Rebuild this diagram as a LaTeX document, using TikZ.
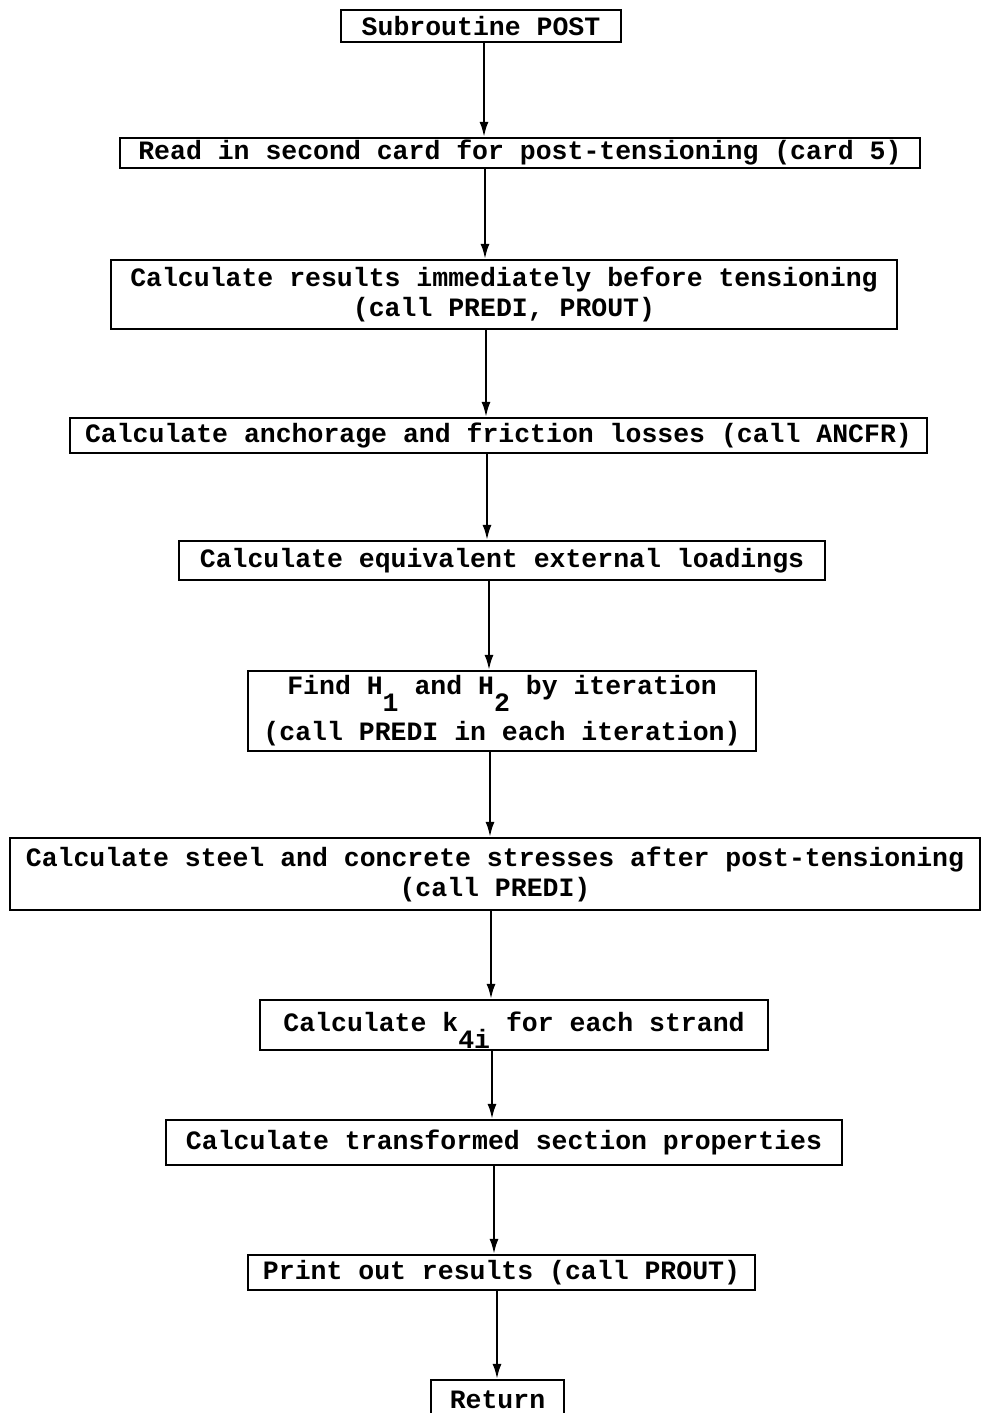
\documentclass[tikz,border=0pt]{standalone}
\usepackage{fontspec}
\setmonofont{Liberation Mono}
\usetikzlibrary{arrows.meta}
\newcommand{\sub}[1]{\smash{\raisebox{-17pt}{#1}}}
\begin{document}
\begin{tikzpicture}[x=1pt,y=-1pt,
  box/.style={draw,line width=2.2pt,inner sep=0pt,align=center,
    font=\ttfamily\bfseries\fontsize{26.5}{30}\selectfont},
  flow/.style={line width=2.2pt,-{Latex[length=15pt,width=9pt]}}]
\useasboundingbox (0,0) rectangle (983,1413);

% process boxes, top to bottom
\node[box,minimum width=280,minimum height=32] (post) at (481,26) {Subroutine POST};
\node[box,minimum width=800,minimum height=30] (read) at (520,153)
  {Read in second card for post-tensioning (card 5)};
\node[box,minimum width=786,minimum height=69] (before) at (504,294.5)
  {Calculate results immediately before tensioning\\(call PREDI, PROUT)};
\node[box,minimum width=857,minimum height=35] (ancfr) at (498.5,435.5)
  {Calculate anchorage and friction losses (call ANCFR)};
\node[box,minimum width=646,minimum height=39] (equiv) at (502,560.5)
  {Calculate equivalent external loadings};
\node[box,minimum width=508,minimum height=80] (iter) at (502,711)
  {Find H\sub{1} and H\sub{2} by iteration\\[16pt](call PREDI in each iteration)};
\node[box,minimum width=970,minimum height=72] (after) at (495,874)
  {Calculate steel and concrete stresses after post-tensioning\\(call PREDI)};
\node[box,minimum width=508,minimum height=50] (kfour) at (514,1025)
  {\raisebox{7pt}{Calculate k\sub{4i} for each strand}};
\node[box,minimum width=676,minimum height=45] (trans) at (504,1142.5)
  {Calculate transformed section properties};
\node[box,minimum width=507,minimum height=35] (print) at (501.5,1272.5)
  {Print out results (call PROUT)};
\node[box,minimum width=133,minimum height=46] (ret) at (497.5,1403)
  {\raisebox{6pt}{Return}};

% vertical guide positions of the connectors
\coordinate (c1) at (484,0);
\coordinate (c2) at (485,0);
\coordinate (c3) at (486,0);
\coordinate (c4) at (487,0);
\coordinate (c5) at (489,0);
\coordinate (c6) at (490,0);
\coordinate (c7) at (491,0);
\coordinate (c8) at (492,0);
\coordinate (c9) at (494,0);
\coordinate (c10) at (497,0);

\draw[flow] (post.south -| c1) -- (read.north -| c1);
\draw[flow] (read.south -| c2) -- (before.north -| c2);
\draw[flow] (before.south -| c3) -- (ancfr.north -| c3);
\draw[flow] (ancfr.south -| c4) -- (equiv.north -| c4);
\draw[flow] (equiv.south -| c5) -- (iter.north -| c5);
\draw[flow] (iter.south -| c6) -- (after.north -| c6);
\draw[flow] (after.south -| c7) -- (kfour.north -| c7);
\draw[flow] (kfour.south -| c8) -- (trans.north -| c8);
\draw[flow] (trans.south -| c9) -- (print.north -| c9);
\draw[flow] (print.south -| c10) -- (ret.north -| c10);
\end{tikzpicture}
\end{document}
